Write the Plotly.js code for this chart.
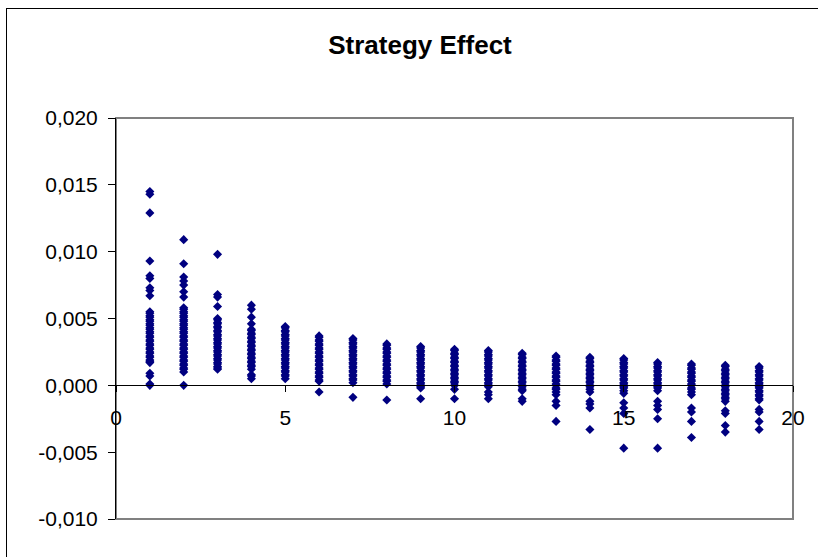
<!DOCTYPE html>
<html>
<head>
<meta charset="utf-8">
<script src="https://cdn.plot.ly/plotly-3.0.1.min.js"></script>
<style>
  html, body { margin: 0; padding: 0; background: #fff; overflow: hidden; }
  #wrap { position: relative; width: 818px; height: 557px; }
  #chart { position: absolute; left: 0; top: 0; width: 818px; height: 557px; }
  #frame { position: absolute; left: 6px; top: 8px; width: 900px; height: 700px; border: 1px solid #000; pointer-events: none; }
</style>
</head>
<body>
<div id="wrap">
  <div id="chart"></div>
  <div id="frame"></div>
</div>
<script>
// Column positions (x values)
const xColumns = [1,2,3,4,5,6,7,8,9,10,11,12,13,14,15,16,17,18,19];

// Observed values per column
const col1  = [0.0145,0.0143,0.0129,0.0093,0.0082,0.0080,0.0073,0.0071,0.0067,
               0.0055,0.0054,0.0052,0.0051,0.0049,0.0048,0.0046,0.0045,0.0043,0.0042,0.0040,0.0039,0.0037,0.0036,0.0034,0.0033,0.0031,0.0030,0.0028,0.0027,0.0025,0.0024,0.0022,0.0021,0.0019,0.0018,0.0017,
               0.0009,0.0007,0.0001,0.0000];
const col2  = [0.0109,0.0091,0.0081,0.0078,0.0075,0.0070,0.0066,
               0.0058,0.0057,0.0055,0.0054,0.0052,0.0051,0.0049,0.0048,0.0046,0.0045,0.0043,0.0042,0.0040,0.0039,0.0037,0.0036,0.0034,0.0033,0.0031,0.0030,0.0028,0.0027,0.0025,0.0024,0.0022,0.0021,0.0019,0.0018,0.0016,0.0015,0.0013,0.0012,0.0010,
               0.0000];
const col3  = [0.0098,0.0068,0.0066,0.0059,
               0.0050,0.0049,0.0047,0.0046,0.0044,0.0043,0.0041,0.0040,0.0038,0.0037,0.0035,0.0034,0.0032,0.0031,0.0029,0.0028,0.0026,0.0025,0.0023,0.0022,0.0020,0.0019,0.0017,0.0016,0.0014,0.0013,0.0012];
const col4  = [0.0060,0.0057,0.0051,0.0046,
               0.0042,0.0041,0.0039,0.0038,0.0036,0.0035,0.0033,0.0032,0.0030,0.0029,0.0027,0.0026,0.0024,0.0023,0.0021,0.0020,0.0018,0.0017,0.0015,0.0014,0.0012,
               0.0008,0.0007,0.0005];
const col5  = [0.0044,0.0043,0.0041,0.0040,0.0038,0.0037,0.0035,0.0034,0.0032,0.0031,0.0029,0.0028,0.0026,0.0025,0.0023,0.0022,0.0020,0.0019,0.0017,0.0016,0.0014,0.0013,0.0011,0.0010,0.0008,0.0007,0.0005];
const col6  = [0.0037,0.0036,0.0034,0.0033,0.0031,0.0030,0.0028,0.0027,0.0025,0.0024,0.0022,0.0021,0.0019,0.0018,0.0016,0.0015,0.0013,0.0012,0.0010,0.0009,0.0007,0.0006,0.0004,0.0003,-0.0005];
const col7  = [0.0035,0.0034,0.0032,0.0031,0.0029,0.0028,0.0026,0.0025,0.0023,0.0022,0.0020,0.0019,0.0017,0.0016,0.0014,0.0013,0.0011,0.0010,0.0008,0.0007,0.0005,0.0004,0.0002,-0.0009];
const col8  = [0.0031,0.0030,0.0028,0.0027,0.0025,0.0024,0.0022,0.0021,0.0019,0.0018,0.0016,0.0015,0.0013,0.0012,0.0010,0.0009,0.0007,0.0006,0.0004,0.0003,0.0001,-0.0011];
const col9  = [0.0029,0.0028,0.0026,0.0025,0.0023,0.0022,0.0020,0.0019,0.0017,0.0016,0.0014,0.0013,0.0011,0.0010,0.0008,0.0007,0.0005,0.0004,0.0002,0.0001,-0.0001,-0.0002,-0.0010];
const col10 = [0.0027,0.0026,0.0024,0.0023,0.0021,0.0020,0.0018,0.0017,0.0015,0.0014,0.0012,0.0011,0.0009,0.0008,0.0006,0.0005,0.0003,0.0002,0.0000,-0.0003,-0.0010];
const col11 = [0.0026,0.0025,0.0023,0.0022,0.0020,0.0019,0.0017,0.0016,0.0014,0.0013,0.0011,0.0010,0.0008,0.0007,0.0005,0.0004,0.0002,0.0001,-0.0001,-0.0005,-0.0007,-0.0010];
const col12 = [0.0024,0.0023,0.0021,0.0020,0.0018,0.0017,0.0015,0.0014,0.0012,0.0011,0.0009,0.0008,0.0006,0.0005,0.0003,0.0002,0.0000,-0.0001,-0.0003,-0.0004,-0.0010,-0.0012];
const col13 = [0.0022,0.0021,0.0019,0.0018,0.0016,0.0015,0.0013,0.0012,0.0010,0.0009,0.0007,0.0006,0.0004,0.0003,0.0001,0.0000,-0.0002,-0.0003,-0.0005,-0.0007,-0.0012,-0.0015,-0.0027];
const col14 = [0.0021,0.0020,0.0018,0.0017,0.0015,0.0014,0.0012,0.0011,0.0009,0.0008,0.0006,0.0005,0.0003,0.0002,0.0000,-0.0001,-0.0003,-0.0005,-0.0012,-0.0014,-0.0017,-0.0033];
const col15 = [0.0020,0.0019,0.0017,0.0016,0.0014,0.0013,0.0011,0.0010,0.0008,0.0007,0.0005,0.0004,0.0002,0.0001,-0.0001,-0.0002,-0.0004,-0.0006,-0.0013,-0.0017,-0.0021,-0.0047];
const col16 = [0.0017,0.0016,0.0014,0.0013,0.0011,0.0010,0.0008,0.0007,0.0005,0.0004,0.0002,0.0001,-0.0001,-0.0002,-0.0004,-0.0012,-0.0015,-0.0018,-0.0025,-0.0047];
const col17 = [0.0016,0.0015,0.0013,0.0012,0.0010,0.0009,0.0007,0.0006,0.0004,0.0003,0.0001,0.0000,-0.0002,-0.0003,-0.0005,-0.0007,-0.0017,-0.0020,-0.0027,-0.0039];
const col18 = [0.0015,0.0014,0.0012,0.0011,0.0009,0.0008,0.0006,0.0005,0.0003,0.0002,0.0000,-0.0001,-0.0003,-0.0004,-0.0006,-0.0007,-0.0009,-0.0010,-0.0012,-0.0019,-0.0021,-0.0030,-0.0035];
const col19 = [0.0014,0.0013,0.0011,0.0010,0.0008,0.0007,0.0005,0.0004,0.0002,0.0001,-0.0001,-0.0002,-0.0004,-0.0005,-0.0007,-0.0008,-0.0010,-0.0011,-0.0018,-0.0020,-0.0027,-0.0033];

const columns = [col1, col2, col3, col4, col5, col6, col7, col8, col9, col10, col11, col12, col13, col14, col15, col16, col17, col18, col19];

// Tick labels
const xTickVals = [0, 5, 10, 15, 20];
const xTickText = ['0', '5', '10', '15', '20'];
const yTickVals = [-0.010, -0.005, 0.000, 0.005, 0.010, 0.015, 0.020];
const yTickText = ['-0,010', '-0,005', '0,000', '0,005', '0,010', '0,015', '0,020'];

const xs = [], ys = [];
columns.forEach((col, i) => {
  col.forEach(v => { xs.push(xColumns[i]); ys.push(v); });
});

const FONT = 'Liberation Sans, Arial, sans-serif';

const trace = {
  type: 'scatter',
  mode: 'markers',
  x: xs,
  y: ys,
  marker: { symbol: 'diamond', color: '#000080', size: 7, line: { width: 0 } },
  hoverinfo: 'x+y',
  showlegend: false
};

const layout = {
  width: 818,
  height: 557,
  margin: { l: 116, r: 25, t: 118, b: 38 },
  paper_bgcolor: '#fff',
  plot_bgcolor: '#fff',
  font: { family: FONT, color: '#000', size: 21 },
  title: {
    text: '<b>Strategy Effect</b>',
    font: { family: FONT, size: 26, color: '#000' },
    x: 420 / 818,
    xref: 'container',
    xanchor: 'center',
    y: 1 - 45 / 557,
    yref: 'container',
    yanchor: 'middle'
  },
  xaxis: {
    range: [0, 20],
    tickvals: xTickVals,
    ticktext: xTickText,
    anchor: 'free',
    position: 1 / 3,
    showgrid: false,
    zeroline: false,
    showline: true,
    linecolor: '#000',
    linewidth: 1,
    ticks: 'outside',
    ticklen: 6,
    tickcolor: '#000',
    ticklabelstandoff: 7,
    tickfont: { family: FONT, size: 21, color: '#000' }
  },
  yaxis: {
    range: [-0.010, 0.020],
    tickvals: yTickVals,
    ticktext: yTickText,
    showgrid: false,
    zeroline: false,
    showline: true,
    linecolor: '#000',
    linewidth: 1,
    ticks: 'outside',
    ticklen: 7,
    tickcolor: '#000',
    ticklabelstandoff: 6,
    tickfont: { family: FONT, size: 21, color: '#000' }
  },
  shapes: [
    { type: 'rect', xref: 'paper', yref: 'paper', x0: 0, x1: 1, y0: 0, y1: 1,
      line: { color: '#808080', width: 2 }, fillcolor: 'rgba(0,0,0,0)', layer: 'below' }
  ]
};

Plotly.newPlot('chart', [trace], layout, { displayModeBar: false, staticPlot: true });
</script>
</body>
</html>
